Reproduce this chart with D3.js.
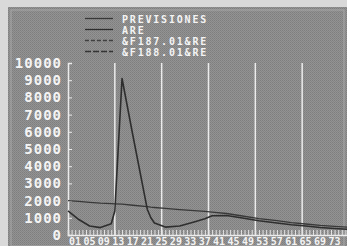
<!DOCTYPE html>
<html>
<head>
<meta charset="utf-8">
<script src="https://cdn.jsdelivr.net/npm/d3@7"></script>
<style>
  body { margin: 0; background: #d9d9d9; }
  svg { display: block; }
  text { font-family: "DejaVu Sans Mono", monospace; font-weight: bold; fill: #f4f4f4; }
</style>
</head>
<body>
<svg></svg>
<script>
// weeks (x positions) where the curves were read
const weeks = [0, 3, 6, 9, 12, 13, 15, 18, 22, 23, 24, 27, 31, 35, 38, 40, 44, 48, 53, 58, 62, 66, 70, 74, 78];
const previsiones = [2000, 1950, 1900, 1850, 1820, 1810, 1790, 1730, 1650, 1620, 1600, 1550, 1480, 1420, 1370, 1330, 1250, 1120, 950, 830, 720, 640, 560, 500, 450];
const are = [1400, 900, 520, 430, 650, 1400, 9100, 5800, 1500, 1000, 700, 460, 520, 760, 950, 1120, 1130, 1000, 830, 700, 600, 520, 440, 380, 330];
const f187 = [];
const f188 = [];
const seriesNames = ["PREVISIONES", "ARE", "&F187.01&RE", "&F188.01&RE"];
const yTicks = [0, 1000, 2000, 3000, 4000, 5000, 6000, 7000, 8000, 9000, 10000];
const xLabels = d3.range(1, 74, 4).map(function(d){ return d3.format("02")(d); });

const W = 347, H = 246;
const svg = d3.select("svg").attr("width", W).attr("height", H);

// grainy grey backdrop
const defs = svg.append("defs");
const pat = defs.append("pattern").attr("id", "grain")
  .attr("width", 2).attr("height", 2).attr("patternUnits", "userSpaceOnUse");
pat.append("rect").attr("width", 2).attr("height", 2).attr("fill", "#939393");
pat.append("rect").attr("width", 1).attr("height", 1).attr("fill", "#7e7e7e");
pat.append("rect").attr("x", 1).attr("y", 1).attr("width", 1).attr("height", 1).attr("fill", "#858585");

svg.append("rect").attr("x", 8).attr("y", 7).attr("width", W - 8).attr("height", H - 7)
  .attr("fill", "url(#grain)");
svg.append("rect").attr("x", 11).attr("y", 10).attr("width", W - 14).attr("height", H - 10)
  .attr("fill", "none").attr("stroke", "#a8a8a8").attr("stroke-width", 1);

const x = d3.scaleLinear().domain([0, 78]).range([68, 349]);
const y = d3.scaleLinear().domain([0, 10000]).range([235, 63]);

// vertical grid every 13 weeks
svg.append("g").selectAll("line")
  .data(d3.range(13, 78, 13))
  .join("line")
  .attr("x1", d => x(d)).attr("x2", d => x(d))
  .attr("y1", y(10000)).attr("y2", y(0))
  .attr("stroke", "#ececec").attr("stroke-width", 1.5);

// y axis
const yAxis = svg.append("g")
  .attr("transform", "translate(" + x(0) + ",0)")
  .call(d3.axisRight(y).tickValues(yTicks).tickSize(4).tickFormat(""));
yAxis.select(".domain").attr("stroke", "#ececec").attr("stroke-width", 1.5);
yAxis.selectAll(".tick line").attr("stroke", "#ececec");

svg.append("g").selectAll("text")
  .data(yTicks)
  .join("text")
  .attr("x", 62).attr("y", d => y(d) + 5)
  .attr("text-anchor", "end")
  .attr("font-size", 14)
  .attr("letter-spacing", 1)
  .text(d => d);

// x axis: a tick each week
const xAxis = svg.append("g")
  .attr("transform", "translate(0," + y(0) + ")")
  .call(d3.axisTop(x).tickValues(d3.range(0, 79)).tickSize(5).tickFormat(""));
xAxis.select(".domain").attr("stroke", "#ececec").attr("stroke-width", 1.5);
xAxis.selectAll(".tick line").attr("stroke", "#e4e4e4");

svg.append("g").selectAll("text")
  .data(xLabels)
  .join("text")
  .attr("x", (d, i) => x(i * 4) + 1)
  .attr("y", 245)
  .attr("font-size", 10)
  .text(d => d);

// curves
const line = d3.line()
  .x(d => x(d[0]))
  .y(d => y(d[1]));

const series = [
  {name: seriesNames[0], values: previsiones, color: "#383838", width: 1.3},
  {name: seriesNames[1], values: are, color: "#2e2e2e", width: 1.6},
  {name: seriesNames[2], values: f187, color: "#404040", width: 1.2, dash: "4,2"},
  {name: seriesNames[3], values: f188, color: "#353535", width: 1.2, dash: "6,2"}
];

series.forEach(function(s){
  if (!s.values.length) return;
  svg.append("path")
    .datum(weeks.map((w, i) => [w, s.values[i]]))
    .attr("fill", "none")
    .attr("stroke", s.color)
    .attr("stroke-width", s.width)
    .attr("stroke-linejoin", "round")
    .attr("d", line);
});

// legend
const legend = svg.append("g").selectAll("g")
  .data(series)
  .join("g")
  .attr("transform", (d, i) => "translate(0," + (18.5 + i * 11) + ")");
legend.append("line")
  .attr("x1", 85).attr("x2", 113)
  .attr("stroke", d => d.color)
  .attr("stroke-width", 1.3)
  .attr("stroke-dasharray", d => d.dash || null);
legend.append("text")
  .attr("x", 122).attr("y", 4)
  .attr("font-size", 10)
  .attr("letter-spacing", 1.8)
  .text(d => d.name);
</script>
</body>
</html>
